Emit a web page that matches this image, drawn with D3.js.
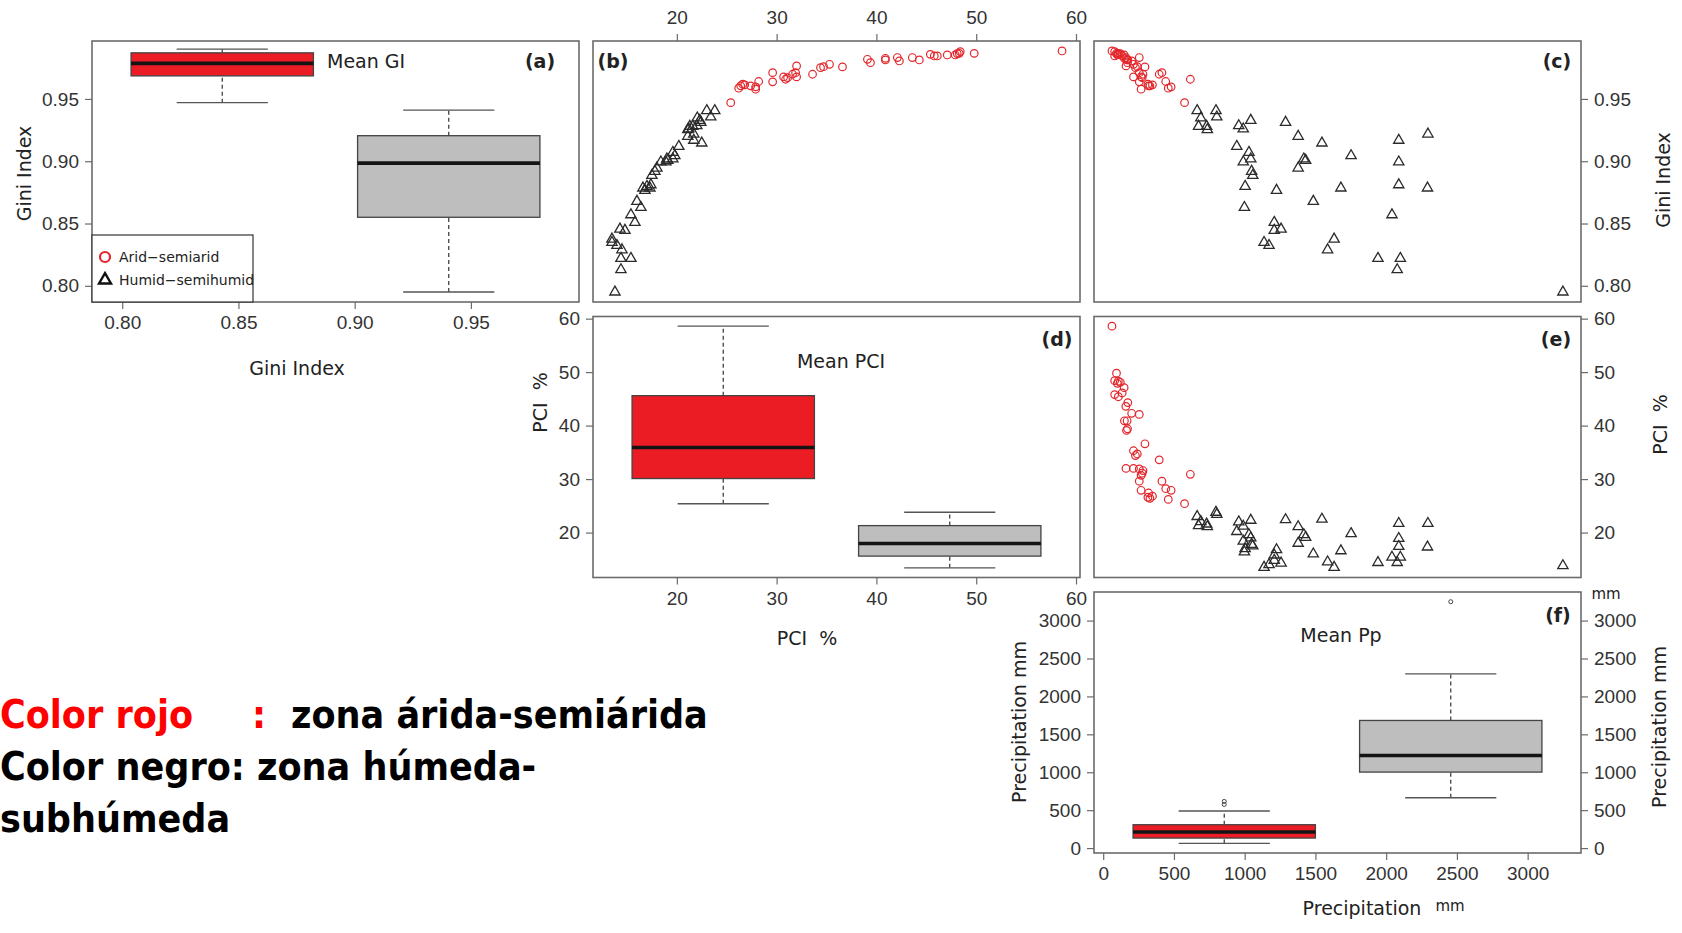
<!DOCTYPE html>
<html>
<head>
<meta charset="utf-8">
<script src="https://cdn.jsdelivr.net/npm/d3@7/dist/d3.min.js"></script>
<style>
  body { margin: 0; background: #fff; }
</style>
</head>
<body>
<svg id="chart" width="1682" height="933"></svg>
<script>
// Zones (order = position of the boxes on the diagonal panels)
var zones = ["arid", "humid"];

// Arid-semiarid sites (red circles): PCI %, Gini index, precipitation mm
var aridPci  = [58.6, 49.8, 48.4, 48.3, 48.1, 47.9, 47.1, 46.1, 45.8, 45.4, 44.3, 43.6, 42.3, 42.1, 40.9, 40.9, 39.4, 39.1, 36.6, 35.3, 34.7,
                34.4, 33.6, 32.0, 32.0, 31.9, 31.6, 31.1, 30.9, 30.7, 29.6, 29.6, 28.2, 27.9, 27.9, 27.4, 26.8, 26.6, 26.4, 26.2, 25.4];
var aridGini = [0.9885, 0.9866, 0.9880, 0.9866, 0.9864, 0.9853, 0.9853, 0.9845, 0.9845, 0.9858, 0.9813, 0.9832, 0.9805, 0.9832, 0.9813, 0.9826, 0.9791, 0.9818, 0.9757, 0.9778, 0.9759,
                0.9751, 0.9698, 0.9765, 0.9677, 0.9711, 0.9698, 0.9671, 0.9658, 0.9677, 0.9711, 0.9637, 0.9640, 0.9597, 0.9578, 0.9605, 0.9613, 0.9618, 0.9605, 0.9586, 0.9470];
var aridPp   = [62, 94, 81, 107, 121, 100, 148, 134, 81, 107, 174, 160, 201, 255, 169, 150, 172, 165, 295, 214, 241,
                228, 396, 161, 214, 255, 281, 276, 616, 268, 415, 255, 442, 480, 268, 321, 348, 316, 330, 460, 575];

// Humid-semihumid sites (black triangles)
var humidPci  = [23.0, 22.05, 21.3, 21.6, 21.1, 23.8, 23.4, 22.3, 22.0, 21.2, 20.2, 19.6, 19.0, 18.4, 17.8, 17.5, 17.0, 16.4, 22.4, 16.8, 15.8, 14.8, 14.3,
                 13.5, 14.0, 21.1, 18.0, 19.6, 19.1, 16.0, 22.5, 14.5, 13.5, 16.6, 19.8, 14.4, 15.4, 14.4, 21.7, 18.9, 17.4, 15.4, 21.7, 17.3, 13.8];
var humidGini = [0.9406, 0.9347, 0.9280, 0.9280, 0.9253, 0.9406, 0.9355, 0.9328, 0.9285, 0.9259, 0.9119, 0.9071, 0.9018, 0.8994, 0.8919, 0.8886, 0.8798, 0.8629, 0.9312, 0.8766, 0.8509, 0.8445, 0.8455,
                 0.8348, 0.8324, 0.9200, 0.8945, 0.9018, 0.9007, 0.8678, 0.9146, 0.8289, 0.8375, 0.8785, 0.9044, 0.8220, 0.8570, 0.8129, 0.9168, 0.8994, 0.8811, 0.8220, 0.9218, 0.8785, 0.7950];
var humidPp   = [664, 690, 674, 731, 736, 797, 803, 1043, 958, 990, 944, 1030, 1043, 990, 1049, 1057, 1003, 998, 1289, 1225, 1209, 1209, 1257,
                 1137, 1172, 1378, 1378, 1418, 1431, 1485, 1546, 1586, 1632, 1680, 1752, 1942, 2041, 2078, 2089, 2089, 2089, 2100, 2295, 2292, 3249];

// Boxplot statistics: [low whisker, Q1, median, Q3, high whisker]
var giniBoxArid  = [0.947, 0.9685, 0.9785, 0.987, 0.990];
var giniBoxHumid = [0.795, 0.855, 0.8985, 0.9205, 0.941];
var pciBoxArid   = [25.4, 30.1, 35.9, 45.6, 58.6];
var pciBoxHumid  = [13.4, 15.6, 17.95, 21.3, 23.8];
var ppBoxArid    = [62, 132, 211, 308, 488];
var ppBoxHumid   = [664, 1002, 1221, 1683, 2297];

// Axis ranges and ticks
var giniDomain = [0.787, 0.9965];
var pciDomain  = [11.6, 60.4];
var ppDomain   = [-65, 3377];
var giniTicks  = [0.80, 0.85, 0.90, 0.95];
var pciTicks   = [20, 30, 40, 50, 60];
var ppTicks    = [0, 500, 1000, 1500, 2000, 2500, 3000];

// Layout of the 3x3 pairs grid
var colX = [92, 593, 1094];
var rowY = [41, 316.5, 592];
var pw = 487, ph = 261;

var titleFont = "DejaVu Sans, Verdana, sans-serif";
var tickFont  = "Liberation Sans Narrow, Liberation Sans, Arial, sans-serif";
var red = "#e3262b", ink = "#2b2b2b", frame = "#6b6b6b";

var svg = d3.select("#chart");

function xScale(domain, col) {
    return d3.scaleLinear().domain(domain).range([colX[col], colX[col] + pw]);
}
function yScale(domain, row) {
    return d3.scaleLinear().domain(domain).range([rowY[row] + ph, rowY[row]]);
}
function bandScale(col) {
    return d3.scaleBand().domain(zones).range([colX[col], colX[col] + pw])
        .paddingInner(0.195).paddingOuter(0.1725);
}

// Styled axis helper
function drawAxis(gen, tx, ty) {
    var g = svg.append("g").attr("transform", "translate(" + tx + "," + ty + ")").call(gen);
    g.select(".domain").remove();
    g.selectAll(".tick line").attr("stroke", frame).attr("stroke-width", 1.2);
    g.selectAll(".tick text").attr("font-family", tickFont).attr("font-size", 19).attr("fill", "#333");
    return g;
}

function frameRect(col, row) {
    svg.append("rect")
        .attr("x", colX[col]).attr("y", rowY[row])
        .attr("width", pw).attr("height", ph)
        .attr("fill", "none").attr("stroke", frame).attr("stroke-width", 1.6);
}

var triangle = d3.symbol().type(d3.symbolTriangle).size(46);

function scatter(x, y, xa, ya, xh, yh) {
    var g = svg.append("g");
    g.selectAll("path.hum").data(d3.range(xh.length)).enter().append("path")
        .attr("class", "hum")
        .attr("d", triangle)
        .attr("transform", function(i) { return "translate(" + x(xh[i]) + "," + y(yh[i]) + ")"; })
        .attr("fill", "none").attr("stroke", ink).attr("stroke-width", 1.3);
    g.selectAll("circle.ar").data(d3.range(xa.length)).enter().append("circle")
        .attr("class", "ar")
        .attr("cx", function(i) { return x(xa[i]); })
        .attr("cy", function(i) { return y(ya[i]); })
        .attr("r", 3.8)
        .attr("fill", "none").attr("stroke", red).attr("stroke-width", 1.2);
}

function boxplot(band, y, stats, zone, values) {
    var g = svg.append("g");
    var x0 = band(zone), bw = band.bandwidth(), cx = x0 + bw / 2;
    var fill = zone === "arid" ? "#ec1c24" : "#bebebe";
    // dashed whiskers
    [[0, 1], [3, 4]].forEach(function(p) {
        g.append("line").attr("x1", cx).attr("x2", cx)
            .attr("y1", y(stats[p[0]])).attr("y2", y(stats[p[1]]))
            .attr("stroke", "#333").attr("stroke-width", 1.2).attr("stroke-dasharray", "4,3");
    });
    // staples
    [0, 4].forEach(function(k) {
        g.append("line").attr("x1", cx - bw / 4).attr("x2", cx + bw / 4)
            .attr("y1", y(stats[k])).attr("y2", y(stats[k]))
            .attr("stroke", "#555").attr("stroke-width", 1.4);
    });
    g.append("rect")
        .attr("x", x0).attr("y", y(stats[3]))
        .attr("width", bw).attr("height", y(stats[1]) - y(stats[3]))
        .attr("fill", fill).attr("stroke", "#444").attr("stroke-width", 1.3);
    g.append("line").attr("x1", x0).attr("x2", x0 + bw)
        .attr("y1", y(stats[2])).attr("y2", y(stats[2]))
        .attr("stroke", "#141414").attr("stroke-width", 3.6);
    // outliers beyond the whiskers
    var outs = values.filter(function(v) { return v < stats[0] || v > stats[4]; });
    g.selectAll("circle").data(outs).enter().append("circle")
        .attr("cx", cx).attr("cy", function(v) { return y(v); })
        .attr("r", 2).attr("fill", "none").attr("stroke", "#444").attr("stroke-width", 1);
}

function label(txt, x, y, opts) {
    opts = opts || {};
    var t = svg.append("text")
        .attr("x", x).attr("y", y)
        .attr("font-family", opts.font || titleFont)
        .attr("font-size", opts.size || 19)
        .attr("font-weight", opts.bold ? "bold" : "normal")
        .attr("fill", opts.color || "#222")
        .attr("text-anchor", opts.anchor || "middle")
        .attr("dominant-baseline", "central")
        .text(txt);
    if (opts.rotate) t.attr("transform", "rotate(-90," + x + "," + y + ")");
    return t;
}

var pciTitle = "PCI\u00a0\u00a0%";
var fmtGini = d3.format(".2f"), fmtInt = d3.format("d");

// ---- Panel (a): Gini boxplot ----
var ya = yScale(giniDomain, 0);
boxplot(bandScale(0), ya, giniBoxArid, "arid", aridGini);
boxplot(bandScale(0), ya, giniBoxHumid, "humid", humidGini);
frameRect(0, 0);
drawAxis(d3.axisLeft(ya).tickValues(giniTicks).tickFormat(fmtGini).tickSize(7).tickPadding(6), colX[0], 0);
drawAxis(d3.axisBottom(xScale(giniDomain, 0)).tickValues(giniTicks).tickFormat(fmtGini).tickSize(7).tickPadding(7), 0, rowY[0] + ph);

// legend
svg.append("rect").attr("x", colX[0]).attr("y", rowY[0] + 194).attr("width", 161).attr("height", 67)
    .attr("fill", "#fff").attr("stroke", "#333").attr("stroke-width", 1.2);
svg.append("circle").attr("cx", colX[0] + 13).attr("cy", rowY[0] + 216).attr("r", 5)
    .attr("fill", "none").attr("stroke", red).attr("stroke-width", 2.2);
svg.append("path").attr("d", d3.symbol().type(d3.symbolTriangle).size(62))
    .attr("transform", "translate(" + (colX[0] + 13) + "," + (rowY[0] + 239) + ")")
    .attr("fill", "none").attr("stroke", "#111").attr("stroke-width", 2.4);
label("Arid\u2212semiarid", colX[0] + 27, rowY[0] + 216, { size: 14, anchor: "start" });
label("Humid\u2212semihumid", colX[0] + 27, rowY[0] + 239, { size: 14, anchor: "start" });

label("Mean GI", colX[0] + 235, rowY[0] + 20, { anchor: "start" });
label("(a)", colX[0] + 448, rowY[0] + 20, { bold: true });
label("Gini Index", 24, rowY[0] + ph / 2 + 2, { rotate: true });
label("Gini Index", 297, 368);

// ---- Panel (b): PCI vs Gini ----
scatter(xScale(pciDomain, 1), yScale(giniDomain, 0), aridPci, aridGini, humidPci, humidGini);
frameRect(1, 0);
drawAxis(d3.axisTop(xScale(pciDomain, 1)).tickValues(pciTicks).tickSize(7).tickPadding(10), 0, rowY[0]);
label("(b)", colX[1] + 20, rowY[0] + 20, { bold: true });

// ---- Panel (c): Pp vs Gini ----
scatter(xScale(ppDomain, 2), yScale(giniDomain, 0), aridPp, aridGini, humidPp, humidGini);
frameRect(2, 0);
drawAxis(d3.axisRight(yScale(giniDomain, 0)).tickValues(giniTicks).tickFormat(fmtGini).tickSize(7).tickPadding(6), colX[2] + pw, 0);
label("(c)", colX[2] + 463, rowY[0] + 20, { bold: true });
label("Gini Index", 1663, rowY[0] + 139, { rotate: true });

// ---- Panel (d): PCI boxplot ----
var yd = yScale(pciDomain, 1);
boxplot(bandScale(1), yd, pciBoxArid, "arid", aridPci);
boxplot(bandScale(1), yd, pciBoxHumid, "humid", humidPci);
frameRect(1, 1);
drawAxis(d3.axisLeft(yd).tickValues(pciTicks).tickSize(7).tickPadding(6), colX[1], 0);
drawAxis(d3.axisBottom(xScale(pciDomain, 1)).tickValues(pciTicks).tickSize(7).tickPadding(7), 0, rowY[1] + ph);
label("Mean PCI", colX[1] + 248, rowY[1] + 44);
label("(d)", colX[1] + 464, rowY[1] + 22, { bold: true });
label(pciTitle, 540, rowY[1] + 86, { rotate: true });
label(pciTitle, 807, 638);

// ---- Panel (e): Pp vs PCI ----
scatter(xScale(ppDomain, 2), yScale(pciDomain, 1), aridPp, aridPci, humidPp, humidPci);
frameRect(2, 1);
drawAxis(d3.axisRight(yScale(pciDomain, 1)).tickValues(pciTicks).tickSize(7).tickPadding(6), colX[2] + pw, 0);
label("(e)", colX[2] + 462, rowY[1] + 22, { bold: true });
label(pciTitle, 1660, rowY[1] + 108, { rotate: true });

// ---- Panel (f): precipitation boxplot ----
var yf = yScale(ppDomain, 2);
boxplot(bandScale(2), yf, ppBoxArid, "arid", aridPp);
boxplot(bandScale(2), yf, ppBoxHumid, "humid", humidPp);
frameRect(2, 2);
drawAxis(d3.axisLeft(yf).tickValues(ppTicks).tickFormat(fmtInt).tickSize(7).tickPadding(6), colX[2], 0);
drawAxis(d3.axisRight(yf).tickValues(ppTicks).tickFormat(fmtInt).tickSize(7).tickPadding(6), colX[2] + pw, 0);
drawAxis(d3.axisBottom(xScale(ppDomain, 2)).tickValues(ppTicks).tickFormat(fmtInt).tickSize(7).tickPadding(7), 0, rowY[2] + ph);
label("Mean Pp", colX[2] + 247, rowY[2] + 43);
label("(f)", colX[2] + 464, rowY[2] + 23, { bold: true });
label("Precipitation mm", 1019, rowY[2] + 130, { rotate: true });
label("Precipitation mm", 1659, rowY[2] + 135, { rotate: true });
label("Precipitation", 1362, 908);
label("mm", 1450, 906, { size: 15 });
label("mm", 1606, 594, { size: 15 });

// ---- Spanish note ----
var noteFont = "DejaVu Sans Condensed, DejaVu Sans, sans-serif";
var note = [
    [{ t: "Color rojo", x: 0, c: "#ff0000" }, { t: ":", x: 252, c: "#ff0000" }, { t: "zona \u00e1rida-semi\u00e1rida", x: 291, c: "#000" }],
    [{ t: "Color negro: zona h\u00fameda-", x: 0, c: "#000" }],
    [{ t: "subh\u00fameda", x: 0, c: "#000" }]
];
var noteBase = [728, 780, 832];
note.forEach(function(line, i) {
    line.forEach(function(p) {
        svg.append("text").attr("x", p.x).attr("y", noteBase[i])
            .attr("font-family", noteFont).attr("font-size", 39).attr("font-weight", "bold")
            .attr("fill", p.c).text(p.t);
    });
});
</script>
</body>
</html>
